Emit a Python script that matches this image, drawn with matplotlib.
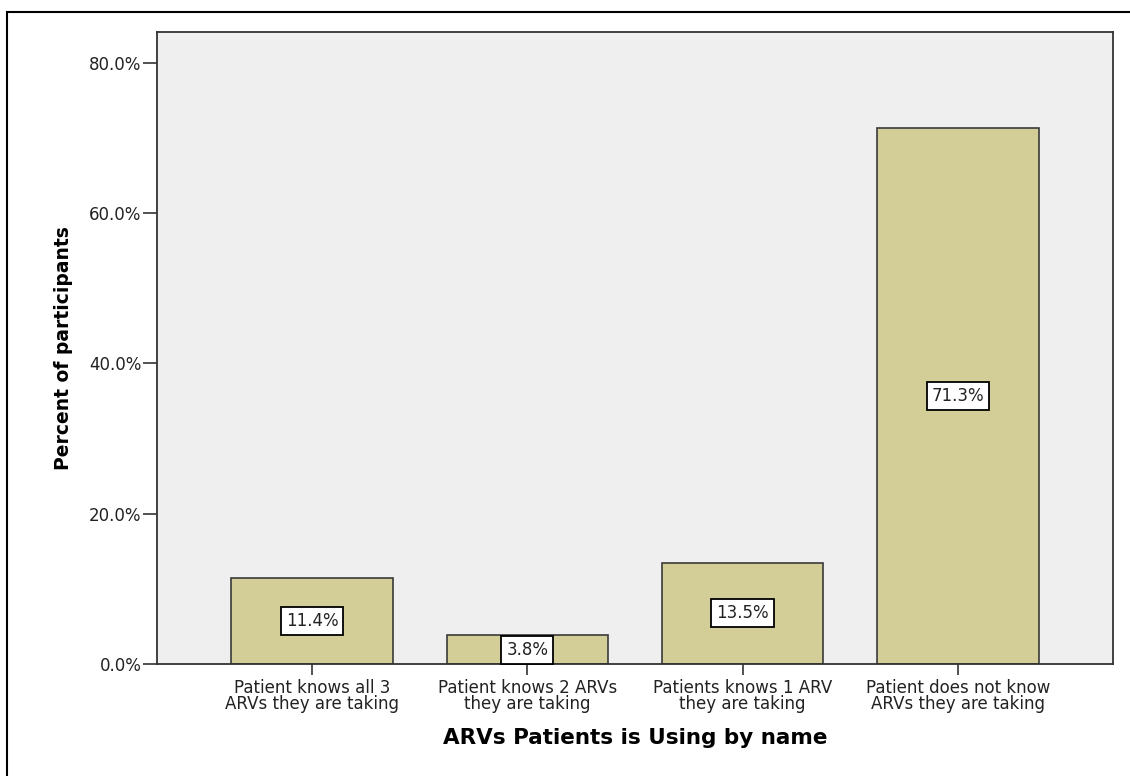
import matplotlib.pyplot as plt
from matplotlib.patches import Rectangle
from matplotlib.ticker import FuncFormatter

plt.rcParams['font.family'] = ['DejaVu Sans']

categories = ['Patient knows all 3\nARVs they are taking',
              'Patient knows 2 ARVs\nthey are taking',
              'Patients knows 1 ARV\nthey are taking',
              'Patient does not know\nARVs they are taking']
percents = [11.4, 3.8, 13.5, 71.3]
yticks = [0, 20, 40, 60, 80]

fig = plt.figure(figsize=(11.3, 7.76), dpi=100)
fig.patches.append(Rectangle((7/1130, -0.1), 1.2, 1 - 12/776 + 0.1, transform=fig.transFigure,
                             fill=False, edgecolor='black', linewidth=1.5))
ax = fig.add_axes([157/1130, 112/776, 956/1130, 632/776])
ax.set_facecolor('#efefef')

x = range(len(categories))
ax.bar(x, percents, width=0.75, color='#d3ce98', edgecolor='#3a3a3a', linewidth=1.2, zorder=2)
for i, p in zip(x, percents):
    ax.text(i, p / 2, f'{p:.1f}%', ha='center', va='center', fontsize=12, color='#222222',
            bbox=dict(boxstyle='square,pad=0.3', facecolor='white', edgecolor='black', linewidth=1.3),
            zorder=3)

ax.set_xlim(-0.72, 3.72)
ax.set_ylim(0, 84.1)
ax.set_yticks(yticks)
ax.yaxis.set_major_formatter(FuncFormatter(lambda v, _: f'{v:.1f}%'))
ax.set_xticks(list(x))
ax.set_xticklabels(categories, fontsize=12, color='#222222', linespacing=0.85)
ax.tick_params(axis='y', labelsize=12, labelcolor='#222222', length=10, width=1.2, color='#333333', pad=1)
ax.tick_params(axis='x', length=8, width=1.2, color='#333333', pad=3)
for s in ax.spines.values():
    s.set_color('#333333')
    s.set_linewidth(1.3)

ax.set_ylabel('Percent of participants', fontsize=13.5, fontweight='bold', labelpad=12)
ax.set_xlabel('ARVs Patients is Using by name', fontsize=15.5, fontweight='bold', labelpad=11)

fig.savefig('out.png', dpi=100)
